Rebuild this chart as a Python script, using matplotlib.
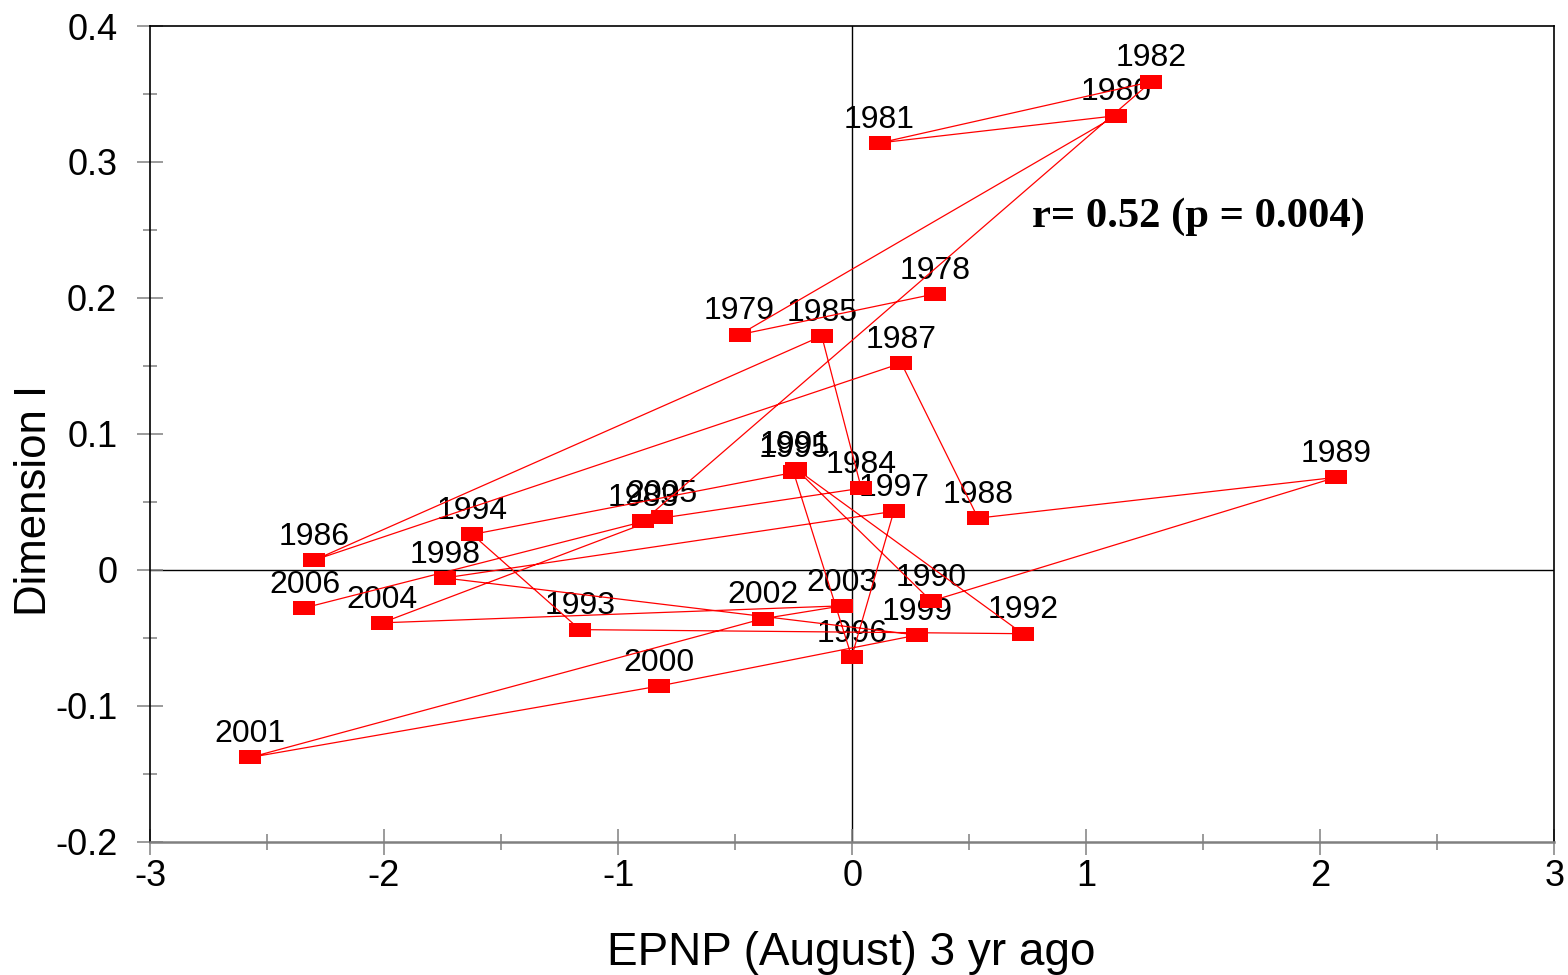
import matplotlib
matplotlib.use("Agg")
import matplotlib.pyplot as plt
from matplotlib.ticker import MultipleLocator, FuncFormatter

plt.rcParams['font.family'] = ['Liberation Sans', 'DejaVu Sans']
plt.rcParams['axes.unicode_minus'] = False

years = [1978, 1979, 1980, 1981, 1982, 1983, 1984, 1985, 1986, 1987,
         1988, 1989, 1990, 1991, 1992, 1993, 1994, 1995, 1996, 1997,
         1998, 1999, 2000, 2001, 2002, 2003, 2004, 2005, 2006]
epnp = [0.356, -0.481, 1.128, 0.117, 1.278, -0.892, 0.039, -0.130, -2.300, 0.210,
        0.538, 2.067, 0.338, -0.242, 0.729, -1.163, -1.623, -0.250, -0.002, 0.178,
        -1.741, 0.278, -0.825, -2.572, -0.382, -0.042, -2.009, -0.812, -2.340]
dim1 = [0.203, 0.173, 0.334, 0.314, 0.359, 0.036, 0.060, 0.172, 0.007, 0.152,
        0.038, 0.068, -0.023, 0.0745, -0.047, -0.044, 0.026, 0.0716, -0.064, 0.043,
        -0.006, -0.048, -0.0855, -0.138, -0.036, -0.0265, -0.039, 0.039, -0.028]

x_ticks = [-3, -2, -1, 0, 1, 2, 3]
y_ticks = [-0.2, -0.1, 0.0, 0.1, 0.2, 0.3, 0.4]
annot_text = "r= 0.52 (p = 0.004)"

fig = plt.figure(figsize=(15.68, 9.75), dpi=100)
ax = fig.add_axes([150/1568, 1-841.7/975, 1404.3/1568, 815.7/975])
ax.set_xlim(-3, 3)
ax.set_ylim(-0.2, 0.4)

# zero lines
ax.axhline(0, color='black', lw=1.0, zorder=1)
ax.axvline(0, color='black', lw=1.0, zorder=1)

rect = [(-11, -7.5), (11, -7.5), (11, 7.5), (-11, 7.5), (-11, -7.5)]
ax.plot(epnp, dim1, color='#FF0000', lw=0.9, zorder=3)
ax.plot(epnp, dim1, ls='none', marker=rect, markersize=15.8,
        markerfacecolor='#FF0000', markeredgewidth=0, zorder=4)

for yr, xv, yv in zip(years, epnp, dim1):
    ax.annotate(str(yr), (xv, yv), xytext=(0, 11), textcoords='offset points',
                ha='center', va='baseline', fontsize=23, color='black', zorder=2)

ax.text(0.77, 0.252, annot_text, fontsize=30.7, fontweight='bold',
        family=['Liberation Serif', 'DejaVu Serif'], ha='left', va='baseline', zorder=5)

for side in ['left', 'top', 'right']:
    ax.spines[side].set_color('black')
    ax.spines[side].set_linewidth(1.2)
ax.spines['bottom'].set_color('#808080')
ax.spines['bottom'].set_linewidth(1.8)

ax.set_xticks(x_ticks)
ax.set_yticks(y_ticks)
ax.xaxis.set_minor_locator(MultipleLocator(0.5))
ax.yaxis.set_minor_locator(MultipleLocator(0.05))
ax.xaxis.set_major_formatter(FuncFormatter(lambda v, p: '%d' % round(v)))
ax.yaxis.set_major_formatter(FuncFormatter(lambda v, p: '0' if abs(v) < 1e-9 else '%.1f' % v))

ax.tick_params(axis='both', which='both', direction='inout', color='#808080', width=1.1,
               labelsize=26, labelcolor='black')
ax.tick_params(axis='x', which='major', length=19, pad=3)
ax.tick_params(axis='x', which='minor', length=12)
ax.tick_params(axis='y', which='major', length=19, pad=14)
ax.tick_params(axis='y', which='minor', length=10)

fig.text(851/1568, 1-965/975, 'EPNP (August) 3 yr ago', fontsize=33,
         ha='center', va='baseline')
fig.text(35/1568, 1-500/975, 'Dimension I', fontsize=31.5, rotation=90,
         ha='center', va='center')

fig.savefig('out.png', dpi=100)
